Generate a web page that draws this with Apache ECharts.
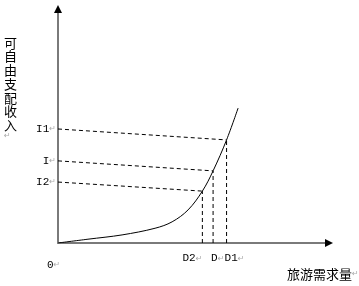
<!DOCTYPE html>
<html><head><meta charset="utf-8">
<script src="https://cdn.jsdelivr.net/npm/echarts@6/dist/echarts.min.js"></script>
<style>html,body{margin:0;padding:0;background:#fff}#c{width:359px;height:286px}</style>
</head><body><div id="c"></div>
<script>
// Curve (supply of leisure demand vs. disposable income)
const curveX = [0, 10.9, 23.3, 35.3, 41.5, 47.3, 52.5, 56.4, 61.3, 65.5];
const curveY = [0, 1.6, 3.4, 6.2, 8.9, 13.9, 21.8, 30.3, 43.3, 56.7];
// Demand tick labels / positions
const demandLabels = ['D2', 'D', 'D1'];
const demandValues = [52.5, 56.4, 61.3];
// Income tick labels / positions (axis end and curve end of sloped dashed guides)
const incomeLabels = ['I2', 'I', 'I1'];
const incomeAxisValues = [25.6, 34.5, 47.9];
const incomeCurveValues = [21.8, 30.3, 43.3];
const originLabel = '0';
const xName = '旅游需求量';
const yName = '可自由支配收入';
const xMax = 98.55;
const yMax = 98.3;

const RET = '{r|\u21b5}';
const monoFont = '"Liberation Mono", monospace';
const cjkFont = '"Noto Sans CJK SC", sans-serif';
const retStyle = { color: '#aaa', fontSize: 8, fontFamily: '"DejaVu Sans"' };

const series = [{
  type: 'line', data: curveX.map((x, i) => [x, curveY[i]]),
  smooth: 0.35, symbol: 'none', lineStyle: { color: '#000', width: 1 }, z: 5
}];
incomeLabels.forEach((lab, i) => {
  series.push({
    type: 'line', symbol: 'none', silent: true,
    data: [[0, incomeAxisValues[i]], [demandValues[i], incomeCurveValues[i]]],
    lineStyle: { color: '#000', width: 1, type: [4, 3] }
  });
  series.push({
    type: 'line', symbol: 'none', silent: true,
    data: [[demandValues[i], 0], [demandValues[i], incomeCurveValues[i]]],
    lineStyle: { color: '#000', width: 1, type: [4, 3] }
  });
});

const chart = echarts.init(document.getElementById('c'), null, { renderer: 'canvas' });
chart.setOption({
  animation: false,
  backgroundColor: '#fff',
  grid: { left: 58, right: 30, top: 9, bottom: 43 },
  title: [
    { text: yName.split('').join('\n') + '\n' + RET, left: 4, top: 36, padding: 0,
      textStyle: { fontFamily: cjkFont, fontSize: 13, fontWeight: 'normal', color: '#000', lineHeight: 13.7,
        rich: { r: Object.assign({ lineHeight: 9 }, retStyle) } } },
    { text: xName + RET, left: 287, top: 266, padding: 0,
      textStyle: { fontFamily: cjkFont, fontSize: 13, fontWeight: 'normal', color: '#000', lineHeight: 16,
        rich: { r: retStyle } } },
    { text: originLabel + RET, left: 47, top: 258, padding: 0,
      textStyle: { fontFamily: monoFont, fontSize: 11, fontWeight: 'normal', color: '#000', lineHeight: 14,
        rich: { r: retStyle } } }
  ],
  xAxis: [
    { type: 'value', min: 0, max: xMax, position: 'bottom',
      axisLine: { show: true, onZero: false, lineStyle: { color: '#7a7a7a', width: 2 } },
      axisTick: { show: false }, splitLine: { show: false },
      axisLabel: { customValues: [demandValues[0]], align: 'right', margin: 10,
        formatter: v => '{t|' + demandLabels[demandValues.indexOf(v)] + '}' + RET,
        rich: { t: { fontFamily: monoFont, fontSize: 11, color: '#000' }, r: retStyle } } },
    { type: 'value', min: 0, max: xMax, position: 'bottom',
      axisLine: { show: true, onZero: false, symbol: ['none', 'triangle'], symbolSize: [8, 8],
        lineStyle: { color: '#000', width: 2, opacity: 0 } },
      axisTick: { show: false }, splitLine: { show: false },
      axisLabel: { customValues: [demandValues[1], demandValues[2]], align: 'left', margin: 10,
        formatter: v => '{t|' + demandLabels[demandValues.indexOf(v)] + '}' + RET,
        rich: { t: { fontFamily: monoFont, fontSize: 11, color: '#000', padding: [0, 0, 0, -2] }, r: retStyle } } }
  ],
  yAxis: [
    { type: 'value', min: 0, max: yMax, position: 'left',
      axisLine: { show: true, onZero: false, lineStyle: { color: '#7a7a7a', width: 2 } },
      axisTick: { show: false }, splitLine: { show: false },
      axisLabel: { customValues: incomeAxisValues, align: 'right', margin: 2,
        formatter: v => '{t|' + incomeLabels[incomeAxisValues.indexOf(v)] + '}' + RET,
        rich: { t: { fontFamily: monoFont, fontSize: 11, color: '#000' }, r: retStyle } } },
    { type: 'value', min: 0, max: yMax, position: 'left',
      axisLine: { show: true, onZero: false, symbol: ['none', 'triangle'], symbolSize: [8, 8],
        lineStyle: { color: '#000', width: 2, opacity: 0 } },
      axisTick: { show: false }, splitLine: { show: false }, axisLabel: { show: false } }
  ],
  series: series
});
</script>
</body></html>
